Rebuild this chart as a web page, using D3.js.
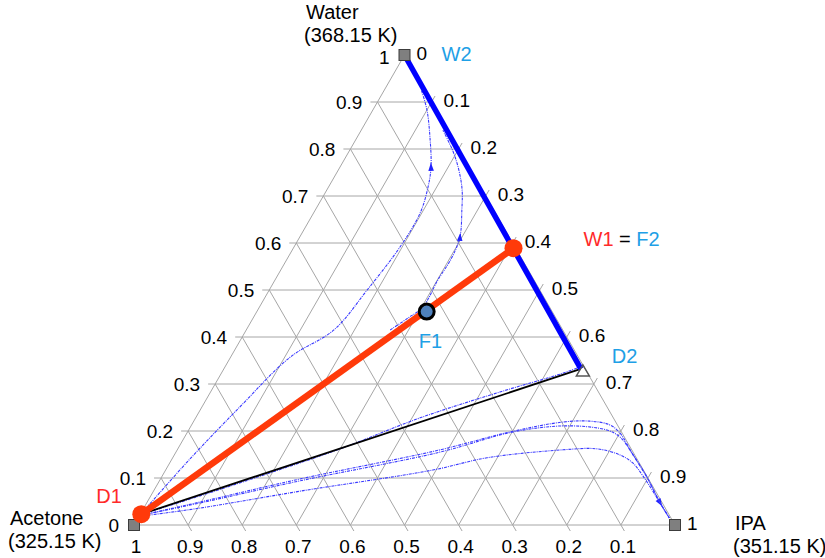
<!DOCTYPE html>
<html>
<head>
<meta charset="utf-8">
<script src="https://cdn.jsdelivr.net/npm/d3@7"></script>
<style>
  body { margin: 0; background: #fff; }
  text { font-family: "Liberation Sans", Arial, sans-serif; }
</style>
</head>
<body>
<div id="content"></div>
<script>
// compositions are [water, ipa]; acetone is the rest
var ticks = [0, 0.1, 0.2, 0.3, 0.4, 0.5, 0.6, 0.7, 0.8, 0.9, 1];
var tickLabels = ["0", "0.1", "0.2", "0.3", "0.4", "0.5", "0.6", "0.7", "0.8", "0.9", "1"];
var vertexNames = ["Acetone", "Water", "IPA"];
var vertexTemps = ["(325.15 K)", "(368.15 K)", "(351.15 K)"];

var D1 = [0.023, 0.002];
var W1 = [0.589, 0.407];
var F1 = [0.454, 0.314];
var D2 = [0.332, 0.660];
var W2 = [1, 0];

var curveA = [[0.026,0.002],[0.140,0.033],[0.251,0.070],[0.357,0.110],[0.415,0.162],[0.500,0.181],[0.592,0.196],[0.664,0.197],[0.719,0.184],[0.762,0.168],[0.826,0.134],[0.883,0.100],[0.926,0.068]];
var curveB = [[0.415,0.266],[0.440,0.286],[0.464,0.302],[0.521,0.301],[0.570,0.303],[0.613,0.296],[0.670,0.271],[0.713,0.250],[0.755,0.223],[0.794,0.193],[0.840,0.151]];
var curveC = [[0.023,0.003],[0.062,0.091],[0.109,0.192],[0.162,0.300],[0.228,0.415],[0.283,0.535],[0.321,0.627],[0.336,0.656]];
var curveD = [[0.021,0.004],[0.049,0.098],[0.098,0.258],[0.160,0.486],[0.198,0.596],[0.219,0.683],[0.221,0.732],[0.213,0.773],[0.196,0.800],[0.149,0.848],[0.102,0.897],[0.047,0.949],[0.015,0.982]];
var curveD2 = [[0.021,0.004],[0.047,0.099],[0.094,0.260],[0.155,0.488],[0.198,0.602],[0.211,0.695],[0.202,0.773],[0.187,0.805],[0.153,0.844],[0.102,0.897],[0.047,0.949],[0.015,0.982]];
var curveE = [[0.019,0.005],[0.036,0.104],[0.072,0.271],[0.117,0.494],[0.143,0.581],[0.160,0.713],[0.162,0.775],[0.149,0.824],[0.132,0.856],[0.104,0.889],[0.047,0.949],[0.015,0.982]];

var profiles = [
  { pts: curveA, arrow: 9 },
  { pts: curveB, arrow: 5 },
  { pts: curveC, arrow: -1 },
  { pts: curveD, arrow: 11 },
  { pts: curveD2, arrow: -1 },
  { pts: curveE, arrow: -1 }
];

var width = 825, height = 558;
var svg = d3.select('#content').append('svg').attr('width', width).attr('height', height);

// x of the triangle = ipa + water/2, y = water
var x = d3.scaleLinear().domain([0, 1]).range([134, 675]);
var y = d3.scaleLinear().domain([0, 1]).range([525, 55]);
function px(c) { return [x(c[1] + c[0] / 2), y(c[0])]; }

var grid = svg.append('g').attr('stroke', '#a6a6a6').attr('stroke-width', 1).attr('fill', 'none');
var inner = ticks.slice(1, 10);
inner.forEach(function(k){
  // water const
  grid.append('line').datum([[k, 0], [k, 1 - k]])
    .attr('x1', function(d){ return px(d[0])[0]; }).attr('y1', function(d){ return px(d[0])[1]; })
    .attr('x2', function(d){ return px(d[1])[0]; }).attr('y2', function(d){ return px(d[1])[1]; });
  // acetone const
  grid.append('line').datum([[1 - k, 0], [0, 1 - k]])
    .attr('x1', function(d){ return px(d[0])[0]; }).attr('y1', function(d){ return px(d[0])[1]; })
    .attr('x2', function(d){ return px(d[1])[0]; }).attr('y2', function(d){ return px(d[1])[1]; });
  // ipa const
  grid.append('line').datum([[0, k], [1 - k, k]])
    .attr('x1', function(d){ return px(d[0])[0]; }).attr('y1', function(d){ return px(d[0])[1]; })
    .attr('x2', function(d){ return px(d[1])[0]; }).attr('y2', function(d){ return px(d[1])[1]; });
  // tick stubs
  var l = px([k, 0]), b = px([0, 1 - k]), r = px([1 - k, k]);
  grid.append('line').attr('x1', l[0]).attr('y1', l[1]).attr('x2', l[0] - 7).attr('y2', l[1]);
  grid.append('line').attr('x1', b[0]).attr('y1', b[1]).attr('x2', b[0] + 3.5).attr('y2', b[1] + 6);
  grid.append('line').attr('x1', r[0]).attr('y1', r[1]).attr('x2', r[0] + 3.5).attr('y2', r[1] - 6);
});
var corners = [[0, 0], [1, 0], [0, 1]];
grid.append('path')
  .attr('d', 'M' + corners.map(px).join('L') + 'Z');

// tick labels
var lab = svg.append('g').attr('font-size', 19).attr('fill', '#000');
ticks.forEach(function(k, i){
  var l = px([k, 0]);
  lab.append('text').attr('x', l[0] - 15).attr('y', l[1] + (k === 1 ? 9 : 7)).attr('text-anchor', 'end').text(tickLabels[i]);
  if (k > 0) {
    var b = px([0, 1 - k]);
    lab.append('text').attr('x', b[0] + 2).attr('y', b[1] + 28).attr('text-anchor', 'middle').text(tickLabels[i]);
  }
  var r = px([1 - k, k]);
  lab.append('text').attr('x', r[0] + 12).attr('y', r[1] + 5).attr('text-anchor', 'start').text(tickLabels[i]);
});

// profiles
var line = d3.line().x(function(d){ return px(d)[0]; }).y(function(d){ return px(d)[1]; })
  .curve(d3.curveCatmullRom.alpha(0.5));
var prof = svg.append('g');
profiles.forEach(function(p){
  prof.append('path').attr('d', line(p.pts)).attr('fill', 'none')
    .attr('stroke', '#3a3aff').attr('stroke-width', 1.1).attr('stroke-dasharray', '3,1,1,1');
  if (p.arrow >= 0) {
    var a = px(p.pts[p.arrow]), c = px(p.pts[p.arrow + 1]);
    var ang = Math.atan2(c[1] - a[1], c[0] - a[0]) * 180 / Math.PI;
    prof.append('path').attr('d', 'M4,0L-4,-2.8L-4,2.8Z').attr('fill', '#2020ff')
      .attr('transform', 'translate(' + a + ') rotate(' + ang + ')');
  }
});

// black D1-D2 line
svg.append('line')
  .attr('x1', px(D1)[0]).attr('y1', px(D1)[1]).attr('x2', px(D2)[0]).attr('y2', px(D2)[1])
  .attr('stroke', '#000').attr('stroke-width', 1.8);

// blue W2-D2
svg.append('line')
  .attr('x1', px(W2)[0]).attr('y1', px(W2)[1]).attr('x2', px(D2)[0]).attr('y2', px(D2)[1])
  .attr('stroke', '#0000ff').attr('stroke-width', 5.5);

// red D1-W1
svg.append('line')
  .attr('x1', px(D1)[0]).attr('y1', px(D1)[1]).attr('x2', px(W1)[0]).attr('y2', px(W1)[1])
  .attr('stroke', '#ff3a0a').attr('stroke-width', 6.5);

// vertex squares
svg.selectAll('.vsq').data(corners).enter().append('rect')
  .attr('class', 'vsq')
  .attr('x', function(d){ return px(d)[0] - 5.5; }).attr('y', function(d){ return px(d)[1] - 5.5; })
  .attr('width', 11).attr('height', 11)
  .attr('fill', '#7f7f7f').attr('stroke', '#3c3c3c').attr('stroke-width', 1);

// D2 triangle
var d2 = px(D2);
svg.append('path').attr('d', 'M0,-6L6.5,5L-6.5,5Z')
  .attr('transform', 'translate(' + (d2[0] + 2) + ',' + (d2[1] + 2) + ')')
  .attr('fill', 'none').attr('stroke', '#555').attr('stroke-width', 1.5);

// red points
svg.selectAll('.rp').data([D1, W1]).enter().append('circle')
  .attr('cx', function(d){ return px(d)[0]; }).attr('cy', function(d){ return px(d)[1]; })
  .attr('r', 9).attr('fill', '#ff3a0a');

// F1 point
svg.append('circle').attr('cx', px(F1)[0]).attr('cy', px(F1)[1]).attr('r', 7.5)
  .attr('fill', '#4f81bd').attr('stroke', '#000').attr('stroke-width', 3);

// vertex names
var vlab = svg.append('g').attr('font-size', 20).attr('fill', '#000');
var vpos = [[10, 525], [306, 19], [735, 530]];
vertexNames.forEach(function(n, i){
  vlab.append('text').attr('x', vpos[i][0]).attr('y', vpos[i][1]).text(n);
  vlab.append('text').attr('x', vpos[i][0] - 2).attr('y', vpos[i][1] + 23).text(vertexTemps[i]);
});

// stream labels
var lightBlue = '#1ea0e6', red = '#ff2a2a';
var slab = svg.append('g').attr('font-size', 20);
slab.append('text').attr('x', px(D1)[0] - 45).attr('y', px(D1)[1] - 11).attr('fill', red).text('D1');
slab.append('text').attr('x', px(F1)[0] - 8).attr('y', px(F1)[1] + 36).attr('fill', lightBlue).text('F1');
slab.append('text').attr('x', d2[0] + 31).attr('y', d2[1] - 6).attr('fill', lightBlue).text('D2');
slab.append('text').attr('x', px(W2)[0] + 37).attr('y', px(W2)[1] + 6).attr('fill', lightBlue).text('W2');
var wf = slab.append('text').attr('x', px(W1)[0] + 70).attr('y', px(W1)[1] - 2);
wf.append('tspan').attr('fill', red).text('W1');
wf.append('tspan').attr('fill', '#000').text(' = ');
wf.append('tspan').attr('fill', lightBlue).text('F2');
</script>
</body>
</html>
